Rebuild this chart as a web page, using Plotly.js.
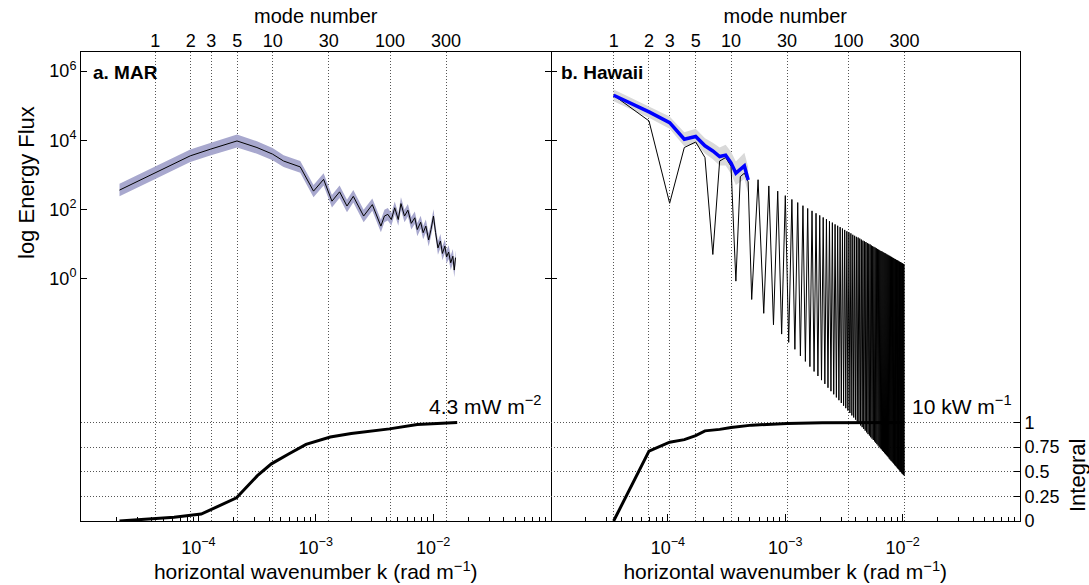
<!DOCTYPE html>
<html>
<head>
<meta charset="utf-8">
<script src="https://cdn.plot.ly/plotly-3.0.1.min.js"></script>
<style>html,body{margin:0;padding:0;background:#fff;}#chart{width:1089px;height:585px;}</style>
</head>
<body>
<div id="chart"></div>
<script>
// ---------------- data ----------------
// a. MAR : log10 wavenumber k (rad/m) and log10 energy flux
const marLogK = [-4.672, -4.367, -4.069, -3.899, -3.671, -3.501, -3.368, -3.274, -3.132, -3.019,
  -2.933, -2.862, -2.797, -2.734, -2.680, -2.592, -2.518, -2.445, -2.415, -2.386,
  -2.356, -2.327, -2.297, -2.274, -2.244, -2.215, -2.186, -2.156, -2.135, -2.106,
  -2.085, -2.062, -2.038, -2.018, -1.997, -1.979, -1.959, -1.938, -1.921, -1.900,
  -1.885, -1.868, -1.850, -1.832, -1.820, -1.809];
const marLogFlux = [2.56, 3.06, 3.55, 3.74, 3.98, 3.79, 3.60, 3.40, 3.23, 2.53,
  2.87, 2.24, 2.51, 2.10, 2.38, 1.81, 2.14, 1.52, 1.81, 1.86,
  1.71, 2.05, 1.71, 2.17, 1.81, 1.98, 1.60, 1.76, 1.42, 1.63,
  1.33, 1.52, 1.12, 1.42, 1.81, 1.33, 0.89, 1.09, 0.73, 0.94,
  0.63, 0.77, 0.46, 0.65, 0.25, 0.61];
const marBandHalf = [0.18, 0.18, 0.18, 0.18, 0.19, 0.18, 0.18, 0.17, 0.17, 0.18,
  0.18, 0.18, 0.18, 0.18, 0.18, 0.18, 0.18, 0.18, 0.18, 0.18,
  0.18, 0.18, 0.18, 0.18, 0.18, 0.18, 0.18, 0.18, 0.19, 0.19,
  0.19, 0.19, 0.19, 0.19, 0.20, 0.20, 0.20, 0.20, 0.20, 0.20,
  0.20, 0.20, 0.21, 0.21, 0.21, 0.21];
const marIntLogK = [-4.672, -4.415, -4.207, -3.976, -3.793, -3.675, -3.497, -3.378, -3.231, -3.083,
  -2.876, -2.698, -2.372, -2.135, -1.795];
const marIntegral = [0, 0.024, 0.038, 0.07, 0.17, 0.235, 0.46, 0.58, 0.68, 0.778,
  0.853, 0.887, 0.935, 0.98, 1.0];
const marModeOneLogK = -4.367;   // wavenumber of mode 1 (log10)

// b. Hawaii : mode number and log10 energy flux
const hawaiiModes = [1, 2, 3, 4, 5, 6, 7, 8, 9, 10, 11, 12, 13, 14,
  15, 17, 19, 21, 23, 25, 27, 29, 31, 33, 35, 37, 39, 41, 43, 45, 47, 49,
  51, 53, 55, 57, 59, 61, 63, 65, 67, 69, 71, 73, 75, 77, 79, 81, 83, 85,
  87, 89, 91, 93, 95, 97, 99, 101, 103, 105, 107, 109, 111, 113, 115, 117,
  119, 121, 123, 125, 127, 129, 131, 133, 135, 137, 139, 141, 143, 145, 147,
  149, 151, 153, 155, 157, 159, 161, 163, 165, 167, 169, 171, 173, 175, 177,
  179, 181, 183, 185, 187, 189, 191, 193, 195, 197, 199, 201, 203, 205, 207,
  209, 211, 213, 215, 217, 219, 221, 223, 225, 227, 229, 231, 233, 235, 237,
  239, 241, 243, 245, 247, 249, 251, 253, 255, 257, 259, 261, 263, 265, 267,
  269, 271, 273, 275, 277, 279, 281, 283, 285, 287, 289, 291, 293, 295, 297, 299];
const hawaiiLogFlux = [5.30, 4.56, 2.18, 3.79, 3.95, 3.50, 0.70, 3.40, 3.50, 3.25, -0.07, 2.95, 3.05, 2.80,
  -0.60, 2.86, -1.00, 2.68, -1.33, 2.53, -1.60, 2.40, -1.84, 2.29, -2.04, 2.20, -2.23, 2.11, -2.39, 2.03, -2.54, 1.96,
  -2.68, 1.89, -2.81, 1.83, -2.93, 1.77, -3.04, 1.72, -3.15, 1.66, -3.25, 1.62, -3.34, 1.57, -3.43, 1.53, -3.51, 1.49,
  -3.59, 1.45, -3.67, 1.41, -3.74, 1.37, -3.81, 1.34, -3.88, 1.31, -3.95, 1.27, -4.01, 1.24, -4.07, 1.21,
  -4.13, 1.19, -4.18, 1.16, -4.24, 1.13, -4.29, 1.10, -4.34, 1.08, -4.39, 1.06, -4.44, 1.03, -4.49,
  1.01, -4.53, 0.99, -4.58, 0.96, -4.62, 0.94, -4.66, 0.92, -4.70, 0.90, -4.74, 0.88, -4.78, 0.86,
  -4.82, 0.84, -4.86, 0.82, -4.90, 0.80, -4.93, 0.79, -4.97, 0.77, -5.00, 0.75, -5.04, 0.74, -5.07,
  0.72, -5.10, 0.70, -5.13, 0.69, -5.16, 0.67, -5.20, 0.66, -5.23, 0.64, -5.26, 0.63, -5.28, 0.61,
  -5.31, 0.60, -5.34, 0.58, -5.37, 0.57, -5.40, 0.56, -5.42, 0.54, -5.45, 0.53, -5.48, 0.52, -5.50,
  0.50, -5.53, 0.49, -5.55, 0.48, -5.58, 0.47, -5.60, 0.45, -5.63, 0.44, -5.65, 0.43, -5.67, 0.42, -5.70];
const hawaiiMeanModes = [1, 2, 3, 4, 5, 6, 7, 8, 9, 10, 11, 12, 13, 14];
const hawaiiMeanLogFlux = [5.30, 4.82, 4.51, 4.03, 4.11, 3.84, 3.69, 3.53, 3.57, 3.35, 3.05, 3.16, 3.26, 2.85];
const hawaiiBandHalf = [0.17, 0.17, 0.18, 0.20, 0.22, 0.22, 0.24, 0.26, 0.30, 0.32, 0.34, 0.36, 0.38, 0.38];
const hawaiiIntModes = [1, 2, 3, 4, 5, 6, 8, 9, 10, 15, 30, 60, 120, 299];
const hawaiiIntegral = [0, 0.71, 0.80, 0.826, 0.867, 0.915, 0.93, 0.939, 0.95, 0.973, 0.99, 0.997, 0.999, 1.0];
const hawaiiModeOneLogK = -4.462;

// axis labels
const kTickVals = [1e-4, 1e-3, 1e-2];
const kTickText = ['10<sup>−4</sup>', '10<sup>−3</sup>', '10<sup>−2</sup>'];
const fluxTickVals = [1, 1e2, 1e4, 1e6];
const fluxTickText = ['10<sup>0</sup>', '10<sup>2</sup>', '10<sup>4</sup>', '10<sup>6</sup>'];
const modeTickVals = [1, 2, 3, 5, 10, 30, 100, 300];
const modeTickText = ['1', '2', '3', '5', '10', '30', '100', '300'];
const intTickVals = [0, 0.25, 0.5, 0.75, 1];
const intTickText = ['0', '0.25', '0.5', '0.75', '1'];

// ---------------- build ----------------
const p10 = v => Math.pow(10, v);
const marK = marLogK.map(p10);
const marFlux = marLogFlux.map(p10);
const marUp = marLogFlux.map((v, i) => p10(v + marBandHalf[i]));
const marLo = marLogFlux.map((v, i) => p10(v - marBandHalf[i]));
const hK1 = p10(hawaiiModeOneLogK);
const hK = hawaiiModes.map(m => m * hK1);
const hFlux = hawaiiLogFlux.map(p10);
const hMeanK = hawaiiMeanModes.map(m => m * hK1);
const hMean = hawaiiMeanLogFlux.map(p10);
const hUp = hawaiiMeanLogFlux.map((v, i) => p10(v + hawaiiBandHalf[i]));
const hLo = hawaiiMeanLogFlux.map((v, i) => p10(v - hawaiiBandHalf[i]));
const hIntK = hawaiiIntModes.map(m => m * hK1);

const minorK = [];
for (let d = -5; d < -1; d++) for (let m = 2; m <= 9; m++) minorK.push(m * Math.pow(10, d));

const FONT = 'Liberation Sans, Arial, Helvetica, sans-serif';
const GRID = '#555555';
const GDASH = '1px,2px';
const INT_RANGE = [0, 4.76];

const traces = [
  {x: marK.concat(marK.slice().reverse()), y: marUp.concat(marLo.slice().reverse()),
   xaxis: 'x', yaxis: 'y', type: 'scatter', mode: 'lines', fill: 'toself',
   fillcolor: 'rgb(168,168,206)', line: {width: 0}, hoverinfo: 'skip'},
  {x: marK, y: marFlux, xaxis: 'x', yaxis: 'y', type: 'scatter', mode: 'lines',
   line: {color: '#000', width: 1}},
  {x: hMeanK.concat(hMeanK.slice().reverse()), y: hUp.concat(hLo.slice().reverse()),
   xaxis: 'x2', yaxis: 'y2', type: 'scatter', mode: 'lines', fill: 'toself',
   fillcolor: 'rgb(217,217,217)', line: {width: 0}, hoverinfo: 'skip'},
  {x: hK, y: hFlux, xaxis: 'x2', yaxis: 'y2', type: 'scatter', mode: 'lines',
   line: {color: '#000', width: 1}},
  {x: hMeanK, y: hMean, xaxis: 'x2', yaxis: 'y2', type: 'scatter', mode: 'lines',
   line: {color: '#0000ff', width: 3.5}},
  {x: marIntLogK.map(p10), y: marIntegral, xaxis: 'x', yaxis: 'y3', type: 'scatter', mode: 'lines',
   line: {color: '#000', width: 3}},
  {x: hIntK, y: hawaiiIntegral, xaxis: 'x2', yaxis: 'y4', type: 'scatter', mode: 'lines',
   line: {color: '#000', width: 3}},
  {x: [], y: [], xaxis: 'x3', yaxis: 'y', type: 'scatter', mode: 'lines', showlegend: false},
  {x: [], y: [], xaxis: 'x4', yaxis: 'y2', type: 'scatter', mode: 'lines', showlegend: false}
];

function kAxis(domain, anchor) {
  return {
    domain: domain, anchor: anchor, type: 'log', range: [-5, -1],
    showline: true, linecolor: '#000', linewidth: 1, mirror: true,
    ticks: 'inside', ticklen: 7, tickwidth: 1, tickcolor: '#000',
    tickmode: 'array', tickvals: kTickVals, ticktext: kTickText, ticklabelstandoff: 10,
    tickfont: {size: 18, color: '#000', family: FONT},
    minor: {ticks: 'inside', ticklen: 4, tickcolor: '#000', tickmode: 'array', tickvals: minorK, showgrid: false},
    showgrid: false, zeroline: false, automargin: false,
    title: {text: 'horizontal wavenumber k (rad m<sup>−1</sup>)', font: {size: 21, color: '#000', family: FONT}, standoff: 6}
  };
}
function modeAxis(domain, over, anchor, k1log) {
  return {
    domain: domain, overlaying: over, anchor: anchor, side: 'top', type: 'log',
    range: [-5 - k1log, -1 - k1log],
    tickmode: 'array', tickvals: modeTickVals, ticktext: modeTickText, ticks: '',
    tickfont: {size: 18, color: '#000', family: FONT},
    showgrid: true, griddash: GDASH, gridcolor: GRID, gridwidth: 1,
    showline: false, zeroline: false, automargin: false,
    title: {text: 'mode number', font: {size: 20, color: '#000', family: FONT}, standoff: 2}
  };
}

const layout = {
  width: 1089, height: 585,
  margin: {l: 81, r: 69, t: 52, b: 64, pad: 0},
  paper_bgcolor: '#fff', plot_bgcolor: 'rgba(0,0,0,0)',
  showlegend: false,
  font: {family: FONT, color: '#000', size: 18},
  xaxis: kAxis([0, 0.5], 'y'),
  xaxis2: kAxis([0.5, 1], 'y2'),
  xaxis3: modeAxis([0, 0.5], 'x', 'y', marModeOneLogK),
  xaxis4: modeAxis([0.5, 1], 'x2', 'y2', hawaiiModeOneLogK),
  yaxis: {
    domain: [0, 1], anchor: 'x', type: 'log', range: [-7, 6.55],
    tickmode: 'array', tickvals: fluxTickVals, ticktext: fluxTickText,
    ticks: 'inside', ticklen: 6, tickcolor: '#000',
    tickfont: {size: 18, color: '#000', family: FONT},
    showline: true, linecolor: '#000', linewidth: 1, mirror: 'ticks',
    showgrid: false, zeroline: false, automargin: false
  },
  yaxis2: {
    domain: [0, 1], anchor: 'x2', type: 'log', range: [-7, 6.55],
    tickmode: 'array', tickvals: fluxTickVals, showticklabels: false,
    ticks: 'inside', ticklen: 6, tickcolor: '#000',
    showline: false, mirror: false,
    showgrid: false, zeroline: false, automargin: false
  },
  yaxis3: {
    overlaying: 'y', anchor: 'x', side: 'right', range: INT_RANGE,
    tickmode: 'array', tickvals: [0.25, 0.5, 0.75, 1], showticklabels: false, ticks: '',
    showgrid: true, griddash: GDASH, gridcolor: GRID, gridwidth: 1,
    showline: false, zeroline: false, automargin: false
  },
  yaxis4: {
    overlaying: 'y2', anchor: 'x2', side: 'right', range: INT_RANGE,
    tickmode: 'array', tickvals: intTickVals, ticktext: intTickText,
    ticks: 'inside', ticklen: 6, tickcolor: '#000',
    tickfont: {size: 18, color: '#000', family: FONT},
    showgrid: true, griddash: GDASH, gridcolor: GRID, gridwidth: 1,
    showline: true, linecolor: '#000', linewidth: 1,
    zeroline: false, automargin: false
  },
  annotations: [
    {text: '<b>a. MAR</b>', xref: 'paper', yref: 'paper', x: 0.0106, y: 0.957,
     xanchor: 'left', yanchor: 'middle', showarrow: false, font: {size: 19, family: FONT, color: '#000'}},
    {text: '<b>b. Hawaii</b>', xref: 'paper', yref: 'paper', x: 0.509, y: 0.957,
     xanchor: 'left', yanchor: 'middle', showarrow: false, font: {size: 19, family: FONT, color: '#000'}},
    {text: '4.3 mW m<sup>−2</sup>', xref: 'paper', yref: 'paper', x: 0.3685, y: 0.247,
     xanchor: 'left', yanchor: 'middle', showarrow: false, font: {size: 21, family: FONT, color: '#000'}},
    {text: '10 kW m<sup>−1</sup>', xref: 'paper', yref: 'paper', x: 0.883, y: 0.247,
     xanchor: 'left', yanchor: 'middle', showarrow: false, font: {size: 21, family: FONT, color: '#000'}},
    {text: 'log Energy Flux', xref: 'paper', yref: 'paper', x: -0.0575, y: 0.7207, textangle: -90,
     xanchor: 'center', yanchor: 'middle', showarrow: false, font: {size: 22, family: FONT, color: '#000'}},
    {text: 'Integral', xref: 'paper', yref: 'paper', x: 1.0607, y: 0.098, textangle: -90,
     xanchor: 'center', yanchor: 'middle', showarrow: false, font: {size: 22, family: FONT, color: '#000'}}
  ]
};

Plotly.newPlot('chart', traces, layout, {staticPlot: true, displayModeBar: false});
</script>
</body>
</html>
